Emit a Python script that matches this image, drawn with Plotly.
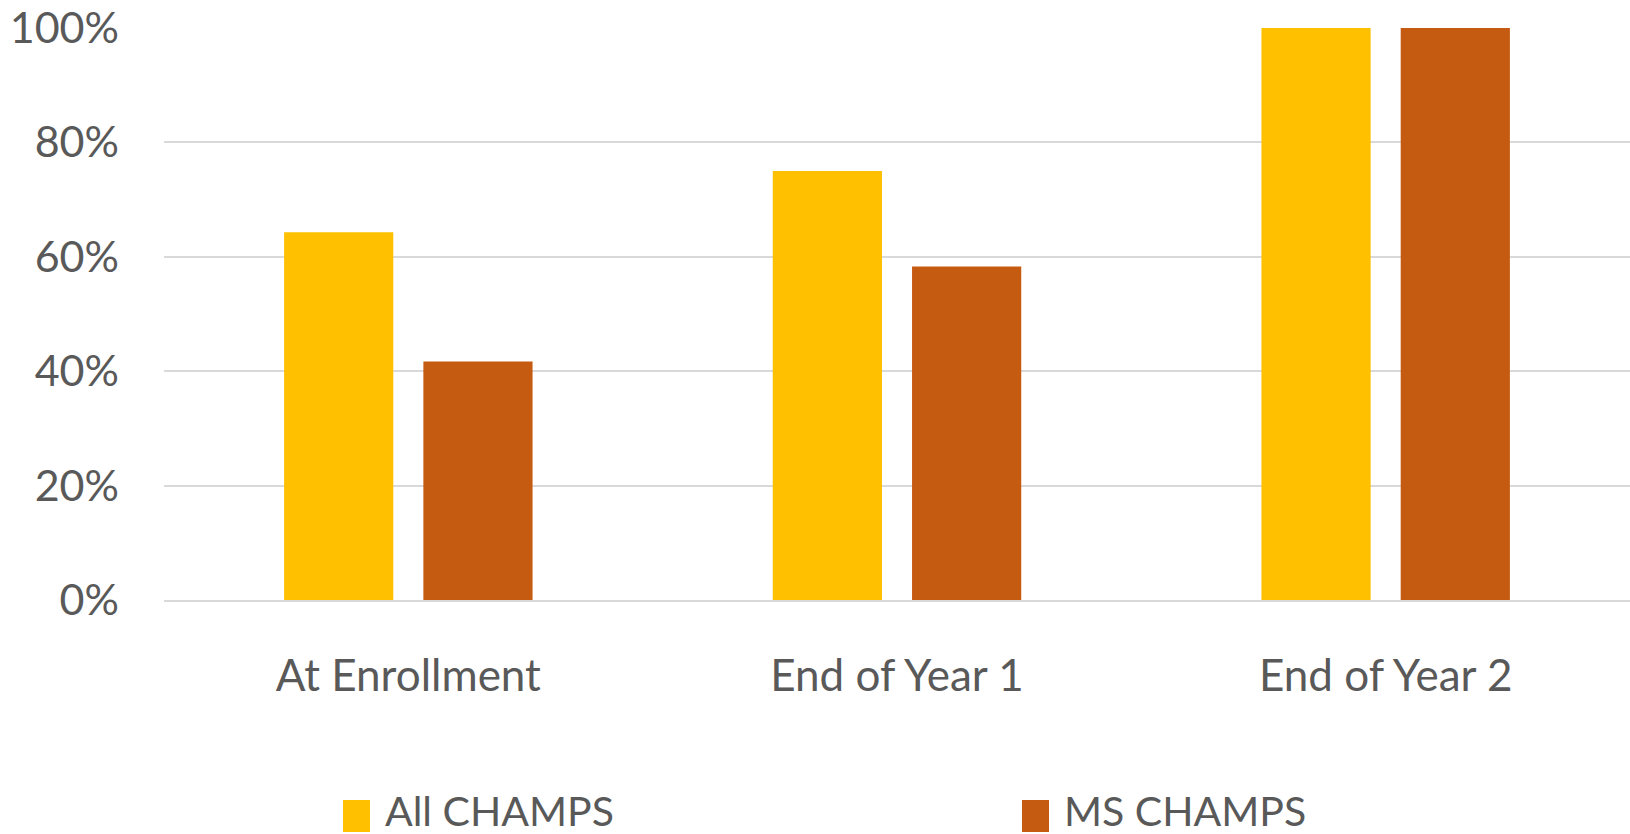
import plotly.graph_objects as go

categories = ["At Enrollment", "End of Year 1", "End of Year 2"]
series_names = ["All CHAMPS", "MS CHAMPS"]
all_champs = [0.643, 0.75, 1.0]
ms_champs = [0.417, 0.583, 1.0]
y_tick_vals = [0, 0.2, 0.4, 0.6, 0.8, 1.0]
y_tick_text = ["0%", "20%", "40%", "60%", "80%", "100%"]

colors = ["#FFC000", "#C55A11"]
W, H = 1630, 834
ML, MR, MT, MB = 164, 0, 28, 234
PW = W - ML - MR
PH = H - MT - MB
FONT = "Lato"
TXT = "#595959"


def px_x(p):
    return (p - ML) / PW


def px_y(p):
    return (H - MB - p) / PH


fig = go.Figure()
for name, vals, col in zip(series_names, [all_champs, ms_champs], colors):
    fig.add_trace(go.Bar(x=categories, y=vals, name=name, marker=dict(color=col, line=dict(width=0))))

fig.update_layout(
    width=W, height=H,
    margin=dict(l=ML, r=MR, t=MT, b=MB),
    paper_bgcolor="white", plot_bgcolor="white",
    barmode="group", bargap=0.43, bargroupgap=0.216,
    showlegend=False,
    font=dict(family=FONT, size=43, color=TXT),
)
fig.update_yaxes(range=[0, 1.0], tickvals=y_tick_vals, ticktext=y_tick_text,
                 showgrid=True, gridcolor="#D9D9D9", gridwidth=1.5,
                 zeroline=False, showline=False, ticks="", ticklabelstandoff=44,
                 tickfont=dict(family=FONT, size=43, color=TXT))
fig.update_xaxes(showgrid=False, showline=True, linecolor="#D9D9D9", linewidth=1.5,
                 ticks="", ticklabelstandoff=36,
                 tickfont=dict(family=FONT, size=44, color=TXT))

# legend drawn as shapes + text
sq = [(343, 370), (1022, 1049)]
tx = [383, 1062]
for (x0, x1), t, name, col in zip(sq, tx, series_names, colors):
    fig.add_shape(type="rect", xref="paper", yref="paper",
                  x0=px_x(x0), x1=px_x(x1), y0=px_y(832), y1=px_y(800),
                  fillcolor=col, line=dict(width=0))
    fig.add_annotation(xref="paper", yref="paper", x=px_x(t), y=px_y(810),
                       text=name, showarrow=False, xanchor="left", yanchor="middle",
                       font=dict(family=FONT, size=41, color=TXT))

fig.write_html("out.html", config={"displayModeBar": False},
               post_script="document.body.style.margin='0';")
